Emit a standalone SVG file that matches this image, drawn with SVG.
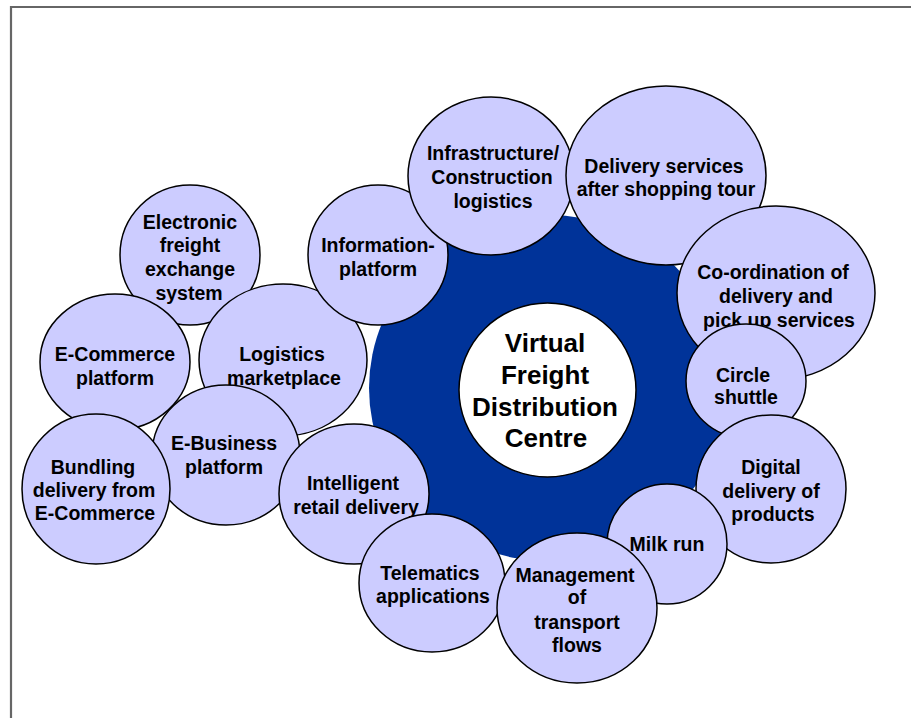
<svg xmlns="http://www.w3.org/2000/svg" width="911" height="718" viewBox="0 0 911 718">
<style>
.n{fill:#CCCCFF;stroke:#000;stroke-width:1.5}
.t{font-family:"Liberation Sans",Arial,sans-serif;font-weight:bold;font-size:19.5px;fill:#000;text-anchor:middle}
.c{font-family:"Liberation Sans",Arial,sans-serif;font-weight:bold;font-size:26px;fill:#000;text-anchor:middle}
</style>
<rect width="911" height="718" fill="#fff"/>
<path d="M11,720 V7 H913" fill="none" stroke="#666" stroke-width="2.2"/>
<g id="hub">
<ellipse cx="548" cy="388" rx="179" ry="173" fill="#003399"/>
</g>
<g id="connectors"></g>
<g id="centre">
<ellipse cx="547.5" cy="390" rx="88.5" ry="87" fill="#fff" stroke="#000" stroke-width="1.5"/>
<text class="c" x="545" y="352">Virtual</text>
<text class="c" x="545" y="384">Freight</text>
<text class="c" x="545" y="416">Distribution</text>
<text class="c" x="546" y="447">Centre</text>
</g>
<g id="electronic">
<ellipse class="n" cx="190" cy="255" rx="70" ry="70"/>
<text class="t" x="190" y="229">Electronic</text>
<text class="t" x="190" y="252">freight</text>
<text class="t" x="190" y="276">exchange</text>
<text class="t" x="189" y="300">system</text>
</g>
<g id="ecommerce">
<ellipse class="n" cx="115" cy="362" rx="75" ry="68"/>
<text class="t" x="115" y="361">E-Commerce</text>
<text class="t" x="115" y="385">platform</text>
</g>
<g id="logistics">
<ellipse class="n" cx="283" cy="360" rx="84" ry="76"/>
<text class="t" x="282" y="361">Logistics</text>
<text class="t" x="284" y="385">marketplace</text>
</g>
<g id="ebusiness">
<ellipse class="n" cx="226" cy="455" rx="74" ry="70"/>
<text class="t" x="224" y="450">E-Business</text>
<text class="t" x="224" y="474">platform</text>
</g>
<g id="bundling">
<ellipse class="n" cx="96" cy="489" rx="74" ry="75"/>
<text class="t" x="93" y="474">Bundling</text>
<text class="t" x="94" y="497">delivery from</text>
<text class="t" x="95" y="520">E-Commerce</text>
</g>
<g id="information">
<ellipse class="n" cx="378" cy="255" rx="70" ry="70"/>
<text class="t" x="378" y="252">Information-</text>
<text class="t" x="378" y="276">platform</text>
</g>
<g id="infrastructure">
<ellipse class="n" cx="491" cy="176" rx="83" ry="79"/>
<text class="t" x="493" y="160">Infrastructure/</text>
<text class="t" x="492" y="184">Construction</text>
<text class="t" x="493" y="208">logistics</text>
</g>
<g id="delivery">
<ellipse class="n" cx="666" cy="175.5" rx="100" ry="89.5"/>
<text class="t" x="664" y="173">Delivery services</text>
<text class="t" x="666" y="196">after shopping tour</text>
</g>
<g id="coordination">
<ellipse class="n" cx="776" cy="293" rx="99" ry="87"/>
<text class="t" x="773" y="279">Co-ordination of</text>
<text class="t" x="776" y="303">delivery and</text>
<text class="t" x="779" y="327">pick up services</text>
</g>
<g id="shuttle">
<ellipse class="n" cx="746" cy="381" rx="60" ry="57"/>
<text class="t" x="743" y="382">Circle</text>
<text class="t" x="746" y="404">shuttle</text>
</g>
<g id="digital">
<ellipse class="n" cx="771" cy="489" rx="75" ry="74"/>
<text class="t" x="771" y="474">Digital</text>
<text class="t" x="771" y="498">delivery of</text>
<text class="t" x="773" y="521">products</text>
</g>
<g id="milkrun">
<ellipse class="n" cx="667" cy="544" rx="60" ry="60"/>
<text class="t" x="667" y="551">Milk run</text>
</g>
<g id="intelligent">
<ellipse class="n" cx="354" cy="494" rx="75" ry="70"/>
<text class="t" x="353" y="490">Intelligent</text>
<text class="t" x="356" y="514">retail delivery</text>
</g>
<g id="telematics">
<ellipse class="n" cx="432" cy="583" rx="73" ry="69"/>
<text class="t" x="430" y="580">Telematics</text>
<text class="t" x="433" y="603">applications</text>
</g>
<g id="management">
<ellipse class="n" cx="577" cy="608" rx="80" ry="75"/>
<text class="t" x="575" y="582">Management</text>
<text class="t" x="577" y="604">of</text>
<text class="t" x="577" y="629">transport</text>
<text class="t" x="577" y="652">flows</text>
</g>
</svg>
